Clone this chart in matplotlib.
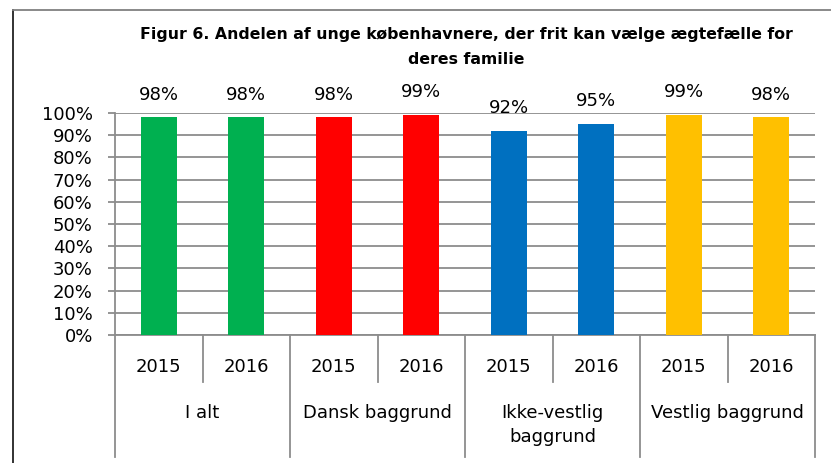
import numpy as np
import matplotlib.pyplot as plt
from matplotlib.lines import Line2D

# data
groups = ["I alt", "Dansk baggrund", "Ikke-vestlig\nbaggrund", "Vestlig baggrund"]
years = ["2015", "2016"]
values = [0.98, 0.98, 0.98, 0.99, 0.92, 0.95, 0.99, 0.98]
group_colors = ["#00B050", "#FF0000", "#0070C0", "#FFC000"]
title = ("Figur 6. Andelen af unge københavnere, der frit kan vælge ægtefælle for\n"
         "deres familie")

grid_col = "#8C8C8C"
fs = 13

fig = plt.figure(figsize=(8.31, 4.63), dpi=100)
ax = fig.add_axes([115 / 831, 1 - 335 / 463, 700 / 831, 222 / 463])

n_year = len(years)
x = np.arange(len(values))
colors = [group_colors[i // n_year] for i in range(len(values))]
ax.bar(x, values, width=0.41, color=colors, zorder=3)

for xi, v in zip(x, values):
    ax.annotate(f"{v * 100:.0f}%", (xi, v), xytext=(0, 10), textcoords="offset points",
                ha="center", va="bottom", fontsize=fs)

ax.set_xlim(-0.5, len(values) - 0.5)
ax.set_ylim(0, 1)
ax.set_yticks(np.arange(0, 1.01, 0.1))
ax.set_yticklabels([f"{t}%" for t in range(0, 101, 10)], fontsize=fs)
ax.yaxis.grid(True, color=grid_col, linewidth=1.3, zorder=0)
ax.tick_params(axis="y", length=5, width=1.3, color=grid_col, pad=11)
ax.set_xticks([])
for s in ["top", "right"]:
    ax.spines[s].set_visible(False)
for s in ["left", "bottom"]:
    ax.spines[s].set_color(grid_col)
    ax.spines[s].set_linewidth(1.3)

# multi-level category axis
tr = ax.get_xaxis_transform()
for xi in x:
    ax.text(xi, -0.145, years[xi % n_year], transform=tr, ha="center", va="center", fontsize=fs)
for g in range(len(groups)):
    for k in range(1, n_year):
        xs = g * n_year + k - 0.5
        ax.plot([xs, xs], [0, -0.212], transform=tr, color=grid_col, lw=1.3, clip_on=False)
for g in range(len(groups) + 1):
    xs = g * n_year - 0.5
    ax.plot([xs, xs], [0, -0.55], transform=tr, color=grid_col, lw=1.3, clip_on=False)
for g, name in enumerate(groups):
    ax.text(g * n_year + (n_year - 1) / 2, -0.31, name, transform=tr, ha="center",
            va="top", fontsize=fs, linespacing=1.45)

fig.text(466 / 831, 1 - 27 / 463, title, ha="center", va="top", fontsize=11.3,
         fontweight="bold", linespacing=1.8)

# chart border (left and top visible)
fig.add_artist(Line2D([13 / 831, 13 / 831], [0, 1 - 10 / 463], transform=fig.transFigure,
                      color="#222222", lw=1.3))
fig.add_artist(Line2D([13 / 831, 1], [1 - 10 / 463, 1 - 10 / 463], transform=fig.transFigure,
                      color="#808080", lw=1.3))

fig.savefig("out.png", dpi=100)
